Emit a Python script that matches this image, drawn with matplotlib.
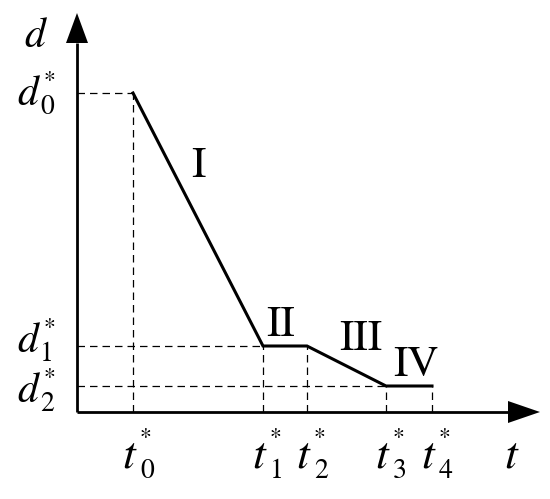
import matplotlib.pyplot as plt

# break points of the curve (origin of the axes at 0,0)
t_pts = [56, 186, 230, 309, 355]
d_pts = [319, 66, 66, 26, 26]
t_subs = ['0', '1', '2', '3', '4']
d_subs = ['0', '1', '2']
d_lvls = [319, 66, 26]
d_base = [307, 60, 10]
phases = ['I', 'II', 'III', 'IV']
phase_x = [121, 204, 284, 339]
phase_y = [245, 86, 72, 46]

SERIF = 'STIXGeneral'


def label(x, y, letter, size, sub, sub_dx, sub_dy, st_dx, st_dy):
    ax.text(x, y, letter, fontsize=size, style='italic', family=SERIF,
            ha='left', va='baseline')
    ax.text(x + sub_dx, y + sub_dy, sub, fontsize=20, family=SERIF,
            ha='left', va='baseline')
    ax.text(x + st_dx, y + st_dy, '*', fontsize=17, family=SERIF,
            ha='left', va='baseline')


fig = plt.figure(figsize=(5.5, 4.99), dpi=100)
ax = fig.add_axes([0, 0, 1, 1])
ax.set_xlim(-77, 473)
ax.set_ylim(-87, 412)
ax.axis('off')

# axes with arrow heads
ax.plot([0, 431], [0, 0], color='black', lw=2, solid_capstyle='butt')
ax.plot([0, 0], [0, 369], color='black', lw=2, solid_capstyle='butt')
ax.fill([431, 463, 431], [-11, 0, 11], color='black', lw=0)
ax.fill([-11, 0, 11], [369, 399, 369], color='black', lw=0)

# dashed guides
for i in range(len(t_pts)):
    ax.plot([t_pts[i], t_pts[i]], [0, d_pts[i]], color='black', lw=0.9,
            ls=(0, (6, 4)))
for i in range(len(d_lvls)):
    j = d_pts.index(d_lvls[i])
    ax.plot([0, t_pts[j]], [d_lvls[i], d_lvls[i]], color='black', lw=0.9,
            ls=(0, (6, 4)))

ax.plot(t_pts, d_pts, color='black', lw=2.2, solid_joinstyle='miter')

for i in range(len(t_pts)):
    label(t_pts[i] - 11, -55, 't', 33, t_subs[i], 18, -11, 17, 23)
for i in range(len(d_subs)):
    label(-60, d_base[i], 'd', 30, d_subs[i], 23, -9, 26, 18)

ax.text(-53, 365, 'd', fontsize=30, style='italic', family=SERIF,
        ha='left', va='baseline')
ax.text(427, -55, 't', fontsize=33, style='italic', family=SERIF,
        ha='left', va='baseline')

for i in range(len(phases)):
    ax.text(phase_x[i], phase_y[i], phases[i], fontsize=31, ha='center',
            va='center', family=SERIF)

fig.savefig('out.png', dpi=100)
